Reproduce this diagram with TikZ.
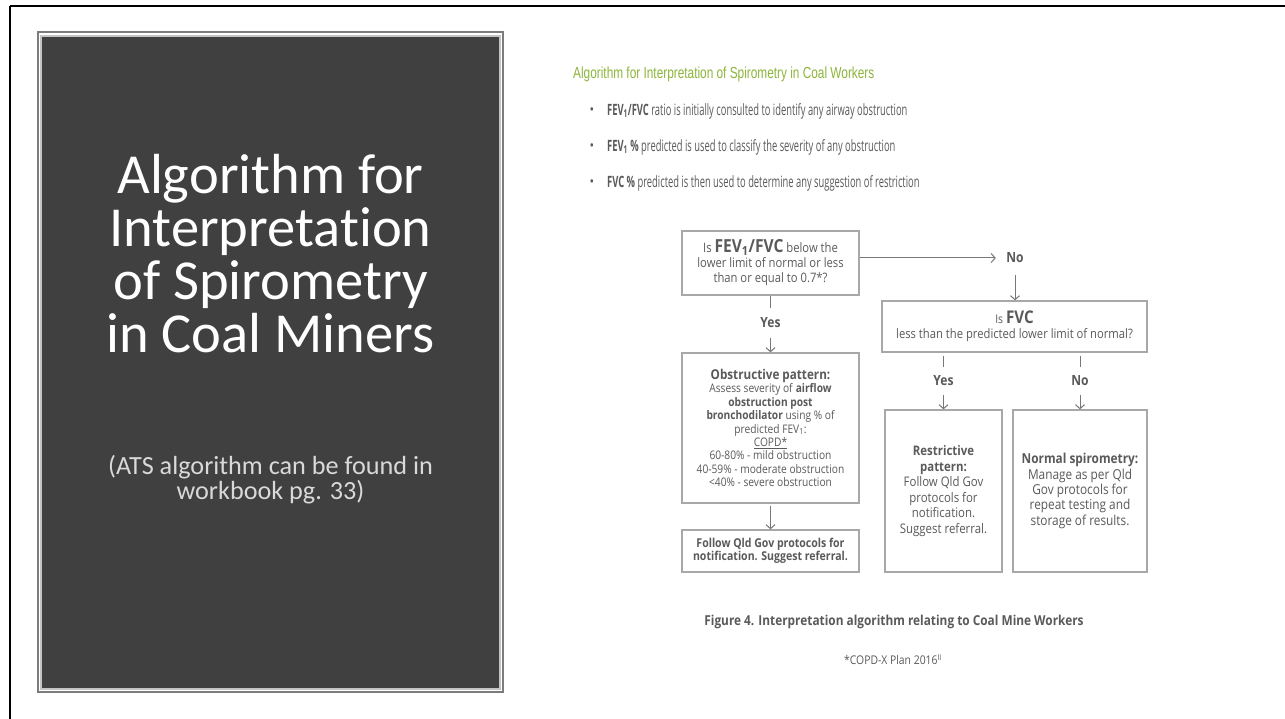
\documentclass[tikz,border=0pt]{standalone}
\usepackage{fontspec}
\usetikzlibrary{arrows.meta}
\newfontfamily\ttl[Ligatures=CommonOff]{Carlito}
\newfontfamily\hd[FakeStretch=0.74]{Liberation Sans}
\newfontfamily\bl[FakeStretch=0.6]{Open Sans}
\newfontfamily\fc[FakeStretch=0.865]{Open Sans}
\definecolor{dark}{HTML}{404040}
\definecolor{rim}{HTML}{7C7C7C}
\definecolor{rimlight}{HTML}{C4C4C4}
\definecolor{green}{HTML}{8DB53C}
\definecolor{txt}{HTML}{5A5A5A}
\definecolor{boxline}{HTML}{A8A8A8}
\definecolor{arrline}{HTML}{777777}
\tikzset{
  fbox/.style={draw=boxline, line width=1.3pt, inner sep=0pt, align=center, text=txt,
    font={\fc\fontsize{13}{15}\selectfont}},
  lbl/.style={inner sep=0pt, minimum height=28pt, text=txt, font={\fc\bfseries\fontsize{14}{16}\selectfont}},
  conn/.style={draw=arrline, line width=1pt},
  arr/.style={conn, -{Straight Barb[length=4pt,width=9pt]}},
  bul/.style={anchor=west, inner sep=0pt, text=txt, font={\bl\fontsize{15.6}{18}\selectfont}},
  dot/.style={inner sep=0pt, text=txt, font={\fc\fontsize{14}{14}\selectfont}}
}
\begin{document}
\begin{tikzpicture}[x=1pt,y=-1pt]
\useasboundingbox (0,0) rectangle (1285,719);
\fill[white] (0,0) rectangle (1285,719);
% outer frame (top and left edges)
\draw[line width=2.5pt, black] (10,6) -- (1285,6);
\draw[line width=2.5pt, black] (10,6) -- (10,719);
% dark panel
\fill[rim] (36.7,31) rectangle (504.3,693.3);
\fill[white] (39,33.3) rectangle (502,691);
\fill[rimlight] (40.3,35.3) rectangle (500.7,689.6);
\fill[dark] (42,36.7) rectangle (499.3,688.3);
\node[text=white, align=center, font={\ttl\fontsize{56.5}{53}\selectfont}] (title) at (270.5,254)
  {Algorithm for\\Interpretation\\of Spirometry\\in Coal Miners};
\node[text=white!85!black, align=center, font={\ttl\fontsize{26.2}{25}\selectfont}] (sub) at (270.5,479.5)
  {(ATS algorithm can be found in\\workbook pg. 33)};
% right side heading and bullets
\node[anchor=west, inner sep=0pt, text=green, font={\hd\fontsize{16}{18}\selectfont}] (head) at (573,74)
  {Algorithm for Interpretation of Spirometry in Coal Workers};
\node[dot] (b1d) at (592,111) {\textbullet};
\node[dot] (b2d) at (592,147) {\textbullet};
\node[dot] (b3d) at (592,183) {\textbullet};
\node[bul] (b1) at (607,111) {\textbf{FEV\textsubscript{1}/FVC} ratio is initially consulted to identify any airway obstruction};
\node[bul] (b2) at (607,147) {\textbf{FEV\textsubscript{1} \%} predicted is used to classify the severity of any obstruction};
\node[bul] (b3) at (607,183) {\textbf{FVC \%} predicted is then used to determine any suggestion of restriction};
% flowchart boxes
\node[fbox, minimum width=177pt, minimum height=64pt] (q1) at (770.5,263)
  {Is {\fontsize{18}{18}\selectfont\bfseries FEV\textsubscript{1}/FVC} below the\\lower limit of normal or less\\than or equal to 0.7*?};
\node[fbox, minimum width=265pt, minimum height=51pt] (q2) at (1014.5,326.5)
  {{\fontsize{12}{12}\selectfont Is} {\fontsize{17.5}{17.5}\selectfont\bfseries FVC}\\[0pt]less than the predicted lower limit of normal?};
\node[fbox, minimum width=177pt, minimum height=150pt, font={\fc\fontsize{11.8}{13.4}\selectfont}] (ob) at (770.5,428)
  {{\fontsize{13.5}{14}\selectfont\bfseries Obstructive pattern:}\\Assess severity of \textbf{airflow}\\\textbf{obstruction post}\\\textbf{bronchodilator} using \% of\\predicted FEV\textsubscript{1}:\\\underline{COPD*}\\60-80\% - mild obstruction\\40-59\% - moderate obstruction\\<40\% - severe obstruction};
\node[fbox, minimum width=177pt, minimum height=42pt, font={\fc\bfseries\fontsize{12.2}{13.5}\selectfont}] (fo) at (770.5,551)
  {Follow Qld Gov protocols for\\notification. Suggest referral.};
\node[fbox, minimum width=117pt, minimum height=162pt, font={\fc\fontsize{13.2}{15.5}\selectfont}] (re) at (943.5,491)
  {\textbf{Restrictive}\\\textbf{pattern:}\\Follow Qld Gov\\protocols for\\notification.\\Suggest referral.};
\node[fbox, minimum width=134pt, minimum height=162pt, font={\fc\fontsize{13.7}{15.3}\selectfont}] (no) at (1080,491)
  {\textbf{Normal spirometry:}\\Manage as per Qld\\Gov protocols for\\repeat testing and\\storage of results.};
% labels
\node[lbl, minimum width=38pt, minimum height=34pt] (nol) at (1015,258) {No};
\node[lbl, minimum height=29pt] (y1) at (770.5,323) {Yes};
\node[lbl] (y2) at (943.5,381) {Yes};
\node[lbl] (n2) at (1080,381) {No};
% connectors
\draw[arr] (q1.east |- nol) -- (nol.west);
\draw[arr] (nol.south) -- (q2.north -| nol);
\draw[conn] (q1.south) -- (y1.north);
\draw[arr] (y1.south) -- (ob.north);
\draw[conn] (y2.north |- q2.south) ++(0,3) -- (y2.north);
\draw[arr] (y2.south) -- (re.north);
\draw[conn] (n2.north |- q2.south) ++(0,3) -- (n2.north);
\draw[arr] (n2.south) -- (no.north);
\draw[arr] (ob.south) ++(0,2) -- (fo.north);
% caption
\node[inner sep=0pt, text=txt, font={\fc\bfseries\fontsize{13.7}{15}\selectfont}] (cap) at (894,622)
  {Figure 4. Interpretation algorithm relating to Coal Mine Workers};
\node[inner sep=0pt, text=txt, font={\fc\fontsize{12}{14}\selectfont}] (src) at (893,660)
  {*COPD-X Plan 2016\textsuperscript{II}};
\end{tikzpicture}
\end{document}
